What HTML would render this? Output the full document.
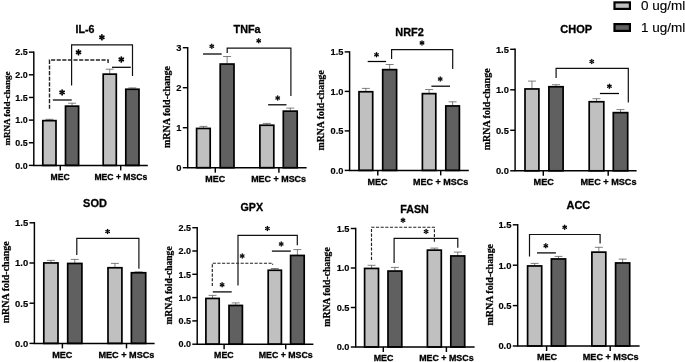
<!DOCTYPE html>
<html><head><meta charset="utf-8"><title>chart</title>
<style>html,body{margin:0;padding:0;background:#fff;overflow:hidden}svg{display:block;filter:grayscale(1)}text{font-family:"Liberation Sans",sans-serif;fill:#000;stroke:#000;stroke-width:0.3px}text.tk{stroke-width:0.15px}text.yl{font-family:"Liberation Serif",serif;stroke-width:0.25px}</style>
</head><body>
<svg width="685" height="362" viewBox="0 0 685 362">
<defs><g id="sb" fill="#000"><path d="M-0.5 0L-0.95 -2.65Q0 -3.81 0.95 -2.65L0.5 0Z" transform="rotate(0)"/><path d="M-0.5 0L-0.95 -2.65Q0 -3.81 0.95 -2.65L0.5 0Z" transform="rotate(60)"/><path d="M-0.5 0L-0.95 -2.65Q0 -3.81 0.95 -2.65L0.5 0Z" transform="rotate(120)"/><path d="M-0.5 0L-0.95 -2.65Q0 -3.81 0.95 -2.65L0.5 0Z" transform="rotate(180)"/><path d="M-0.5 0L-0.95 -2.65Q0 -3.81 0.95 -2.65L0.5 0Z" transform="rotate(240)"/><path d="M-0.5 0L-0.95 -2.65Q0 -3.81 0.95 -2.65L0.5 0Z" transform="rotate(300)"/></g><g id="sr" fill="#000"><path d="M-0.38 0L-0.76 -2.26Q0 -3.25 0.76 -2.26L0.38 0Z" transform="rotate(0)"/><path d="M-0.38 0L-0.76 -2.26Q0 -3.25 0.76 -2.26L0.38 0Z" transform="rotate(60)"/><path d="M-0.38 0L-0.76 -2.26Q0 -3.25 0.76 -2.26L0.38 0Z" transform="rotate(120)"/><path d="M-0.38 0L-0.76 -2.26Q0 -3.25 0.76 -2.26L0.38 0Z" transform="rotate(180)"/><path d="M-0.38 0L-0.76 -2.26Q0 -3.25 0.76 -2.26L0.38 0Z" transform="rotate(240)"/><path d="M-0.38 0L-0.76 -2.26Q0 -3.25 0.76 -2.26L0.38 0Z" transform="rotate(300)"/></g></defs>
<rect width="685" height="362" fill="#fff"/>
<text x="85" y="32.6" font-size="10.6" font-weight="bold" text-anchor="middle">IL-6</text>
<path d="M49.40 120.1V119.3M45.40 119.3H53.40" stroke="#4a4a4a" stroke-width="0.7" fill="none"/>
<rect x="42.80" y="120.65" width="13.20" height="44.75" fill="#c0c0c0" stroke="#000" stroke-width="1.7"/>
<path d="M72.05 105.6V103.2M68.05 103.2H76.05" stroke="#4a4a4a" stroke-width="0.7" fill="none"/>
<rect x="65.50" y="106.15" width="13.10" height="59.25" fill="#606060" stroke="#000" stroke-width="1.7"/>
<path d="M109.75 73.6V69.2M105.75 69.2H113.75" stroke="#4a4a4a" stroke-width="0.7" fill="none"/>
<rect x="103.20" y="74.15" width="13.10" height="91.25" fill="#c0c0c0" stroke="#000" stroke-width="1.7"/>
<path d="M132.40 88.7V87.9M128.40 87.9H136.40" stroke="#4a4a4a" stroke-width="0.7" fill="none"/>
<rect x="125.80" y="89.25" width="13.20" height="76.15" fill="#606060" stroke="#000" stroke-width="1.7"/>
<path d="M33.8 51.43V165.4M33.07 165.4H147.8" stroke="#000" stroke-width="1.45" fill="none"/>
<path d="M28.90 165.40H33.8" stroke="#000" stroke-width="1.45"/>
<text class="tk" x="27.60" y="168.61" font-size="8.93" font-weight="bold" text-anchor="end">0.0</text>
<path d="M28.90 142.75H33.8" stroke="#000" stroke-width="1.45"/>
<text class="tk" x="27.60" y="145.96" font-size="8.93" font-weight="bold" text-anchor="end">0.5</text>
<path d="M28.90 120.10H33.8" stroke="#000" stroke-width="1.45"/>
<text class="tk" x="27.60" y="123.31" font-size="8.93" font-weight="bold" text-anchor="end">1.0</text>
<path d="M28.90 97.45H33.8" stroke="#000" stroke-width="1.45"/>
<text class="tk" x="27.60" y="100.66" font-size="8.93" font-weight="bold" text-anchor="end">1.5</text>
<path d="M28.90 74.80H33.8" stroke="#000" stroke-width="1.45"/>
<text class="tk" x="27.60" y="78.01" font-size="8.93" font-weight="bold" text-anchor="end">2.0</text>
<path d="M28.90 52.15H33.8" stroke="#000" stroke-width="1.45"/>
<text class="tk" x="27.60" y="55.36" font-size="8.93" font-weight="bold" text-anchor="end">2.5</text>
<path d="M60.3 165.4V170.40" stroke="#000" stroke-width="1.45"/>
<path d="M120.7 165.4V170.40" stroke="#000" stroke-width="1.45"/>
<text x="60.1" y="180.4" font-size="8.6" font-weight="bold" text-anchor="middle">MEC</text>
<text x="120.8" y="180.4" font-size="8.6" font-weight="bold" text-anchor="middle">MEC + MSCs</text>
<text transform="translate(9.5 108.5) rotate(-90)" class="yl" font-size="9.03" font-weight="bold" text-anchor="middle">mRNA fold-change</text>
<path d="M71.6 85.4V44.8H132.5V76" fill="none" stroke-width="1.2" stroke="#111"/>
<path d="M49.5 108.8V60H108.1V63.7" fill="none" stroke-width="1.4" stroke-dasharray="4.1 1.5" stroke="#222"/>
<path d="M112 67.3H130.8" stroke="#000" stroke-width="1.25"/>
<path d="M52.8 100H71.7" stroke="#000" stroke-width="1.25"/>
<use href="#sb" x="101.90" y="37.30"/>
<use href="#sb" x="78.50" y="52.30"/>
<use href="#sb" x="121.30" y="59.50"/>
<use href="#sb" x="62.10" y="92.40"/>
<text x="247.1" y="32.6" font-size="10.8" font-weight="bold" text-anchor="middle">TNFa</text>
<path d="M203.40 127.9V126.4M199.40 126.4H207.40" stroke="#4a4a4a" stroke-width="0.7" fill="none"/>
<rect x="196.60" y="128.45" width="13.60" height="39.25" fill="#c0c0c0" stroke="#000" stroke-width="1.7"/>
<path d="M227.10 63.5V56.5M223.10 56.5H231.10" stroke="#4a4a4a" stroke-width="0.7" fill="none"/>
<rect x="220.20" y="64.05" width="13.80" height="103.65" fill="#606060" stroke="#000" stroke-width="1.7"/>
<path d="M266.85 124.7V123.4M262.85 123.4H270.85" stroke="#4a4a4a" stroke-width="0.7" fill="none"/>
<rect x="259.90" y="125.25" width="13.90" height="42.45" fill="#c0c0c0" stroke="#000" stroke-width="1.7"/>
<path d="M290.25 110.6V108.1M286.25 108.1H294.25" stroke="#4a4a4a" stroke-width="0.7" fill="none"/>
<rect x="283.30" y="111.15" width="13.90" height="56.55" fill="#606060" stroke="#000" stroke-width="1.7"/>
<path d="M187.7 46.97V167.7M186.97 167.7H306.6" stroke="#000" stroke-width="1.45" fill="none"/>
<path d="M182.80 167.70H187.7" stroke="#000" stroke-width="1.45"/>
<text class="tk" x="181.50" y="171.06" font-size="9.35" font-weight="bold" text-anchor="end">0</text>
<path d="M182.80 127.70H187.7" stroke="#000" stroke-width="1.45"/>
<text class="tk" x="181.50" y="131.06" font-size="9.35" font-weight="bold" text-anchor="end">1</text>
<path d="M182.80 87.70H187.7" stroke="#000" stroke-width="1.45"/>
<text class="tk" x="181.50" y="91.06" font-size="9.35" font-weight="bold" text-anchor="end">2</text>
<path d="M182.80 47.70H187.7" stroke="#000" stroke-width="1.45"/>
<text class="tk" x="181.50" y="51.06" font-size="9.35" font-weight="bold" text-anchor="end">3</text>
<path d="M215.3 167.7V172.70" stroke="#000" stroke-width="1.45"/>
<path d="M278.9 167.7V172.70" stroke="#000" stroke-width="1.45"/>
<text x="215.3" y="181.8" font-size="8.95" font-weight="bold" text-anchor="middle">MEC</text>
<text x="278.6" y="181.8" font-size="8.95" font-weight="bold" text-anchor="middle">MEC + MSCs</text>
<text transform="translate(169.6 107.0) rotate(-90)" class="yl" font-size="10.0" font-weight="bold" text-anchor="middle">mRNA fold-change</text>
<path d="M227.2 53V48.05H290.9V96" fill="none" stroke-width="1.2" stroke="#111"/>
<path d="M203 54.0H221.7" stroke="#000" stroke-width="1.25"/>
<path d="M268.1 104.8H286.5" stroke="#000" stroke-width="1.25"/>
<use href="#sr" x="211.80" y="46.30"/>
<use href="#sr" x="258.70" y="40.80"/>
<use href="#sr" x="277.70" y="98.00"/>
<text x="409.6" y="35.9" font-size="10.9" font-weight="bold" text-anchor="middle">NRF2</text>
<path d="M365.85 91.2V88.4M361.85 88.4H369.85" stroke="#4a4a4a" stroke-width="0.7" fill="none"/>
<rect x="359.00" y="91.75" width="13.70" height="78.65" fill="#c0c0c0" stroke="#000" stroke-width="1.7"/>
<path d="M389.65 69.1V64.5M385.65 64.5H393.65" stroke="#4a4a4a" stroke-width="0.7" fill="none"/>
<rect x="382.70" y="69.65" width="13.90" height="100.75" fill="#606060" stroke="#000" stroke-width="1.7"/>
<path d="M429.10 93.1V89.5M425.10 89.5H433.10" stroke="#4a4a4a" stroke-width="0.7" fill="none"/>
<rect x="422.40" y="93.65" width="13.40" height="76.75" fill="#c0c0c0" stroke="#000" stroke-width="1.7"/>
<path d="M452.60 105.4V101.8M448.60 101.8H456.60" stroke="#4a4a4a" stroke-width="0.7" fill="none"/>
<rect x="445.80" y="105.95" width="13.60" height="64.45" fill="#606060" stroke="#000" stroke-width="1.7"/>
<path d="M349.6 51.18V170.4M348.88 170.4H468.8" stroke="#000" stroke-width="1.45" fill="none"/>
<path d="M344.70 170.40H349.6" stroke="#000" stroke-width="1.45"/>
<text class="tk" x="343.40" y="173.75" font-size="9.29" font-weight="bold" text-anchor="end">0.0</text>
<path d="M344.70 130.90H349.6" stroke="#000" stroke-width="1.45"/>
<text class="tk" x="343.40" y="134.25" font-size="9.29" font-weight="bold" text-anchor="end">0.5</text>
<path d="M344.70 91.40H349.6" stroke="#000" stroke-width="1.45"/>
<text class="tk" x="343.40" y="94.75" font-size="9.29" font-weight="bold" text-anchor="end">1.0</text>
<path d="M344.70 51.90H349.6" stroke="#000" stroke-width="1.45"/>
<text class="tk" x="343.40" y="55.25" font-size="9.29" font-weight="bold" text-anchor="end">1.5</text>
<path d="M377.8 170.4V175.40" stroke="#000" stroke-width="1.45"/>
<path d="M440.7 170.4V175.40" stroke="#000" stroke-width="1.45"/>
<text x="377.4" y="185.0" font-size="9.0" font-weight="bold" text-anchor="middle">MEC</text>
<text x="440.6" y="185.0" font-size="9.0" font-weight="bold" text-anchor="middle">MEC + MSCs</text>
<text transform="translate(324.3 110.3) rotate(-90)" class="yl" font-size="9.8" font-weight="bold" text-anchor="middle">mRNA fold-change</text>
<path d="M391.6 59V49.6H452.7V69" fill="none" stroke-width="1.2" stroke="#111"/>
<path d="M367.7 61.5H386.1" stroke="#000" stroke-width="1.25"/>
<path d="M431.4 86.2H450" stroke="#000" stroke-width="1.25"/>
<use href="#sr" x="376.50" y="54.70"/>
<use href="#sr" x="422.00" y="42.90"/>
<use href="#sr" x="440.20" y="79.00"/>
<text x="576.2" y="33.1" font-size="11" font-weight="bold" text-anchor="middle">CHOP</text>
<path d="M531.95 88.4V81.1M527.95 81.1H535.95" stroke="#4a4a4a" stroke-width="0.7" fill="none"/>
<rect x="525.00" y="88.95" width="13.90" height="81.85" fill="#c0c0c0" stroke="#000" stroke-width="1.7"/>
<path d="M556.00 86.2V84.7M552.00 84.7H560.00" stroke="#4a4a4a" stroke-width="0.7" fill="none"/>
<rect x="548.90" y="86.75" width="14.20" height="84.05" fill="#606060" stroke="#000" stroke-width="1.7"/>
<path d="M596.50 101.2V98.7M592.50 98.7H600.50" stroke="#4a4a4a" stroke-width="0.7" fill="none"/>
<rect x="589.20" y="101.75" width="14.60" height="69.05" fill="#c0c0c0" stroke="#000" stroke-width="1.7"/>
<path d="M620.50 112.1V109.6M616.50 109.6H624.50" stroke="#4a4a4a" stroke-width="0.7" fill="none"/>
<rect x="613.30" y="112.65" width="14.40" height="58.15" fill="#606060" stroke="#000" stroke-width="1.7"/>
<path d="M515.1 48.58V170.8M514.38 170.8H636.6" stroke="#000" stroke-width="1.45" fill="none"/>
<path d="M510.20 170.80H515.1" stroke="#000" stroke-width="1.45"/>
<text class="tk" x="508.90" y="174.16" font-size="9.35" font-weight="bold" text-anchor="end">0.0</text>
<path d="M510.20 130.30H515.1" stroke="#000" stroke-width="1.45"/>
<text class="tk" x="508.90" y="133.66" font-size="9.35" font-weight="bold" text-anchor="end">0.5</text>
<path d="M510.20 89.80H515.1" stroke="#000" stroke-width="1.45"/>
<text class="tk" x="508.90" y="93.16" font-size="9.35" font-weight="bold" text-anchor="end">1.0</text>
<path d="M510.20 49.30H515.1" stroke="#000" stroke-width="1.45"/>
<text class="tk" x="508.90" y="52.66" font-size="9.35" font-weight="bold" text-anchor="end">1.5</text>
<path d="M543.3 170.8V175.80" stroke="#000" stroke-width="1.45"/>
<path d="M608.2 170.8V175.80" stroke="#000" stroke-width="1.45"/>
<text x="543.7" y="185.0" font-size="9.15" font-weight="bold" text-anchor="middle">MEC</text>
<text x="608.5" y="185.0" font-size="9.15" font-weight="bold" text-anchor="middle">MEC + MSCs</text>
<text transform="translate(489.9 109.4) rotate(-90)" class="yl" font-size="10" font-weight="bold" text-anchor="middle">mRNA fold-change</text>
<path d="M556.1 77.9V68.3H628.3V102.5" fill="none" stroke-width="1.2" stroke="#111"/>
<path d="M599.9 93.5H619" stroke="#000" stroke-width="1.25"/>
<use href="#sr" x="591.80" y="61.50"/>
<use href="#sr" x="609.40" y="86.20"/>
<text x="95" y="207.1" font-size="11" font-weight="bold" text-anchor="middle">SOD</text>
<path d="M50.90 262.4V260.4M46.90 260.4H54.90" stroke="#4a4a4a" stroke-width="0.7" fill="none"/>
<rect x="43.80" y="262.95" width="14.20" height="80.45" fill="#c0c0c0" stroke="#000" stroke-width="1.7"/>
<path d="M74.80 262.9V259.4M70.80 259.4H78.80" stroke="#4a4a4a" stroke-width="0.7" fill="none"/>
<rect x="67.70" y="263.45" width="14.20" height="79.95" fill="#606060" stroke="#000" stroke-width="1.7"/>
<path d="M114.95 267.2V263.4M110.95 263.4H118.95" stroke="#4a4a4a" stroke-width="0.7" fill="none"/>
<rect x="108.00" y="267.75" width="13.90" height="75.65" fill="#c0c0c0" stroke="#000" stroke-width="1.7"/>
<path d="M138.55 272.2V271.9M134.55 271.9H142.55" stroke="#4a4a4a" stroke-width="0.7" fill="none"/>
<rect x="131.40" y="272.75" width="14.30" height="70.65" fill="#606060" stroke="#000" stroke-width="1.7"/>
<path d="M34.4 222.07V343.4M33.67 343.4H154.6" stroke="#000" stroke-width="1.45" fill="none"/>
<path d="M29.50 343.40H34.4" stroke="#000" stroke-width="1.45"/>
<text class="tk" x="28.20" y="346.80" font-size="9.45" font-weight="bold" text-anchor="end">0.0</text>
<path d="M29.50 303.20H34.4" stroke="#000" stroke-width="1.45"/>
<text class="tk" x="28.20" y="306.60" font-size="9.45" font-weight="bold" text-anchor="end">0.5</text>
<path d="M29.50 263.00H34.4" stroke="#000" stroke-width="1.45"/>
<text class="tk" x="28.20" y="266.40" font-size="9.45" font-weight="bold" text-anchor="end">1.0</text>
<path d="M29.50 222.80H34.4" stroke="#000" stroke-width="1.45"/>
<text class="tk" x="28.20" y="226.20" font-size="9.45" font-weight="bold" text-anchor="end">1.5</text>
<path d="M62.4 343.4V348.40" stroke="#000" stroke-width="1.45"/>
<path d="M126.5 343.4V348.40" stroke="#000" stroke-width="1.45"/>
<text x="62.3" y="357.7" font-size="9.15" font-weight="bold" text-anchor="middle">MEC</text>
<text x="126.4" y="357.7" font-size="9.15" font-weight="bold" text-anchor="middle">MEC + MSCs</text>
<text transform="translate(9 282.3) rotate(-90)" class="yl" font-size="10" font-weight="bold" text-anchor="middle">mRNA fold-change</text>
<path d="M76.8 254.9V238.4H138.9V268.7" fill="none" stroke-width="1.2" stroke="#111"/>
<use href="#sr" x="107.60" y="231.50"/>
<text x="251.8" y="210.6" font-size="10.7" font-weight="bold" text-anchor="middle">GPX</text>
<path d="M212.55 297.9V295.4M208.55 295.4H216.55" stroke="#4a4a4a" stroke-width="0.7" fill="none"/>
<rect x="205.90" y="298.45" width="13.30" height="45.75" fill="#c0c0c0" stroke="#000" stroke-width="1.7"/>
<path d="M235.70 304.9V302.9M231.70 302.9H239.70" stroke="#4a4a4a" stroke-width="0.7" fill="none"/>
<rect x="229.00" y="305.45" width="13.40" height="38.75" fill="#606060" stroke="#000" stroke-width="1.7"/>
<path d="M274.80 269.7V268.5M270.80 268.5H278.80" stroke="#4a4a4a" stroke-width="0.7" fill="none"/>
<rect x="268.20" y="270.25" width="13.20" height="73.95" fill="#c0c0c0" stroke="#000" stroke-width="1.7"/>
<path d="M297.40 254.9V249.6M293.40 249.6H301.40" stroke="#4a4a4a" stroke-width="0.7" fill="none"/>
<rect x="290.60" y="255.45" width="13.60" height="88.75" fill="#606060" stroke="#000" stroke-width="1.7"/>
<path d="M197.2 226.97V344.2M196.47 344.2H313.4" stroke="#000" stroke-width="1.45" fill="none"/>
<path d="M192.30 344.20H197.2" stroke="#000" stroke-width="1.45"/>
<text class="tk" x="191.00" y="347.45" font-size="9.03" font-weight="bold" text-anchor="end">0.0</text>
<path d="M192.30 320.90H197.2" stroke="#000" stroke-width="1.45"/>
<text class="tk" x="191.00" y="324.15" font-size="9.03" font-weight="bold" text-anchor="end">0.5</text>
<path d="M192.30 297.60H197.2" stroke="#000" stroke-width="1.45"/>
<text class="tk" x="191.00" y="300.85" font-size="9.03" font-weight="bold" text-anchor="end">1.0</text>
<path d="M192.30 274.30H197.2" stroke="#000" stroke-width="1.45"/>
<text class="tk" x="191.00" y="277.55" font-size="9.03" font-weight="bold" text-anchor="end">1.5</text>
<path d="M192.30 251.00H197.2" stroke="#000" stroke-width="1.45"/>
<text class="tk" x="191.00" y="254.25" font-size="9.03" font-weight="bold" text-anchor="end">2.0</text>
<path d="M192.30 227.70H197.2" stroke="#000" stroke-width="1.45"/>
<text class="tk" x="191.00" y="230.95" font-size="9.03" font-weight="bold" text-anchor="end">2.5</text>
<path d="M224.1 344.2V349.20" stroke="#000" stroke-width="1.45"/>
<path d="M285.7 344.2V349.20" stroke="#000" stroke-width="1.45"/>
<text x="223.9" y="357.7" font-size="8.8" font-weight="bold" text-anchor="middle">MEC</text>
<text x="285.7" y="357.7" font-size="8.8" font-weight="bold" text-anchor="middle">MEC + MSCs</text>
<text transform="translate(172.4 285.5) rotate(-90)" class="yl" font-size="9.56" font-weight="bold" text-anchor="middle">mRNA fold-change</text>
<path d="M238 285.6V235.3H297.3V245.3" fill="none" stroke-width="1.2" stroke="#111"/>
<path d="M212.3 286V263.2H272.6V264.7" fill="none" stroke-width="1.15" stroke-dasharray="3.1 1.55" stroke="#222"/>
<path d="M271.9 251.1H290.8" stroke="#000" stroke-width="1.25"/>
<path d="M212.8 291.9H231.7" stroke="#000" stroke-width="1.25"/>
<use href="#sr" x="267.40" y="228.50"/>
<use href="#sr" x="281.20" y="244.00"/>
<use href="#sr" x="242.20" y="256.00"/>
<use href="#sr" x="222.10" y="284.80"/>
<text x="414.6" y="212.6" font-size="10.7" font-weight="bold" text-anchor="middle">FASN</text>
<path d="M371.55 267.9V265.3M367.55 265.3H375.55" stroke="#4a4a4a" stroke-width="0.7" fill="none"/>
<rect x="364.60" y="268.45" width="13.90" height="78.55" fill="#c0c0c0" stroke="#000" stroke-width="1.7"/>
<path d="M394.90 270.5V267.4M390.90 267.4H398.90" stroke="#4a4a4a" stroke-width="0.7" fill="none"/>
<rect x="388.00" y="271.05" width="13.80" height="75.95" fill="#606060" stroke="#000" stroke-width="1.7"/>
<path d="M434.35 249.6V248.1M430.35 248.1H438.35" stroke="#4a4a4a" stroke-width="0.7" fill="none"/>
<rect x="427.40" y="250.15" width="13.90" height="96.85" fill="#c0c0c0" stroke="#000" stroke-width="1.7"/>
<path d="M457.75 255.4V252.1M453.75 252.1H461.75" stroke="#4a4a4a" stroke-width="0.7" fill="none"/>
<rect x="450.80" y="255.95" width="13.90" height="91.05" fill="#606060" stroke="#000" stroke-width="1.7"/>
<path d="M355.7 227.78V347M354.97 347H474.6" stroke="#000" stroke-width="1.45" fill="none"/>
<path d="M350.80 347.00H355.7" stroke="#000" stroke-width="1.45"/>
<text class="tk" x="349.50" y="350.33" font-size="9.24" font-weight="bold" text-anchor="end">0.0</text>
<path d="M350.80 307.50H355.7" stroke="#000" stroke-width="1.45"/>
<text class="tk" x="349.50" y="310.83" font-size="9.24" font-weight="bold" text-anchor="end">0.5</text>
<path d="M350.80 268.00H355.7" stroke="#000" stroke-width="1.45"/>
<text class="tk" x="349.50" y="271.33" font-size="9.24" font-weight="bold" text-anchor="end">1.0</text>
<path d="M350.80 228.50H355.7" stroke="#000" stroke-width="1.45"/>
<text class="tk" x="349.50" y="231.83" font-size="9.24" font-weight="bold" text-anchor="end">1.5</text>
<path d="M383.3 347V352.00" stroke="#000" stroke-width="1.45"/>
<path d="M446.4 347V352.00" stroke="#000" stroke-width="1.45"/>
<text x="383.5" y="361.4" font-size="8.9" font-weight="bold" text-anchor="middle">MEC</text>
<text x="446.4" y="361.4" font-size="8.9" font-weight="bold" text-anchor="middle">MEC + MSCs</text>
<text transform="translate(329.8 287) rotate(-90)" class="yl" font-size="9.7" font-weight="bold" text-anchor="middle">mRNA fold-change</text>
<path d="M371.5 259.9V227.2H434.4V242.8" fill="none" stroke-width="1.15" stroke-dasharray="3.1 1.55" stroke="#222"/>
<path d="M394.1 262.9V238.3H457.8V247.8" fill="none" stroke-width="1.2" stroke="#111"/>
<use href="#sr" x="403.00" y="220.20"/>
<use href="#sr" x="426.10" y="231.50"/>
<text x="578.4" y="209.4" font-size="11" font-weight="bold" text-anchor="middle">ACC</text>
<path d="M534.65 265.4V263.4M530.65 263.4H538.65" stroke="#4a4a4a" stroke-width="0.7" fill="none"/>
<rect x="527.60" y="265.95" width="14.10" height="80.05" fill="#c0c0c0" stroke="#000" stroke-width="1.7"/>
<path d="M558.50 258.4V256.4M554.50 256.4H562.50" stroke="#4a4a4a" stroke-width="0.7" fill="none"/>
<rect x="551.40" y="258.95" width="14.20" height="87.05" fill="#606060" stroke="#000" stroke-width="1.7"/>
<path d="M598.85 251.6V247.3M594.85 247.3H602.85" stroke="#4a4a4a" stroke-width="0.7" fill="none"/>
<rect x="591.90" y="252.15" width="13.90" height="93.85" fill="#c0c0c0" stroke="#000" stroke-width="1.7"/>
<path d="M622.65 262.4V259.1M618.65 259.1H626.65" stroke="#4a4a4a" stroke-width="0.7" fill="none"/>
<rect x="615.60" y="262.95" width="14.10" height="83.05" fill="#606060" stroke="#000" stroke-width="1.7"/>
<path d="M517.7 224.08V346.0M516.98 346.0H639.6" stroke="#000" stroke-width="1.45" fill="none"/>
<path d="M512.80 346.00H517.7" stroke="#000" stroke-width="1.45"/>
<text class="tk" x="511.50" y="349.40" font-size="9.45" font-weight="bold" text-anchor="end">0.0</text>
<path d="M512.80 305.60H517.7" stroke="#000" stroke-width="1.45"/>
<text class="tk" x="511.50" y="309.00" font-size="9.45" font-weight="bold" text-anchor="end">0.5</text>
<path d="M512.80 265.20H517.7" stroke="#000" stroke-width="1.45"/>
<text class="tk" x="511.50" y="268.60" font-size="9.45" font-weight="bold" text-anchor="end">1.0</text>
<path d="M512.80 224.80H517.7" stroke="#000" stroke-width="1.45"/>
<text class="tk" x="511.50" y="228.20" font-size="9.45" font-weight="bold" text-anchor="end">1.5</text>
<path d="M546.6 346.0V351.00" stroke="#000" stroke-width="1.45"/>
<path d="M610.2 346.0V351.00" stroke="#000" stroke-width="1.45"/>
<text x="547" y="360.3" font-size="9.1" font-weight="bold" text-anchor="middle">MEC</text>
<text x="610.7" y="360.3" font-size="9.1" font-weight="bold" text-anchor="middle">MEC + MSCs</text>
<text transform="translate(492.8 284.7) rotate(-90)" class="yl" font-size="9.95" font-weight="bold" text-anchor="middle">mRNA fold-change</text>
<path d="M529.5 256.6V234.5H600.1V243.6" fill="none" stroke-width="1.2" stroke="#111"/>
<path d="M537 252.9H555.9" stroke="#000" stroke-width="1.25"/>
<use href="#sr" x="564.70" y="227.20"/>
<use href="#sr" x="545.80" y="245.80"/>
<rect x="614.5" y="2.4" width="15.4" height="6.50" fill="#c0c0c0" stroke="#000" stroke-width="2.2"/>
<text x="640.9" y="10.0" font-size="12.2" textLength="44.3" lengthAdjust="spacingAndGlyphs" style="stroke-width:0.12px">0 ug/ml</text>
<rect x="614.5" y="24.1" width="15.4" height="6.80" fill="#606060" stroke="#000" stroke-width="2.2"/>
<text x="640.9" y="31.900000000000002" font-size="12.2" textLength="44.3" lengthAdjust="spacingAndGlyphs" style="stroke-width:0.12px">1 ug/ml</text>
</svg>
</body></html>
